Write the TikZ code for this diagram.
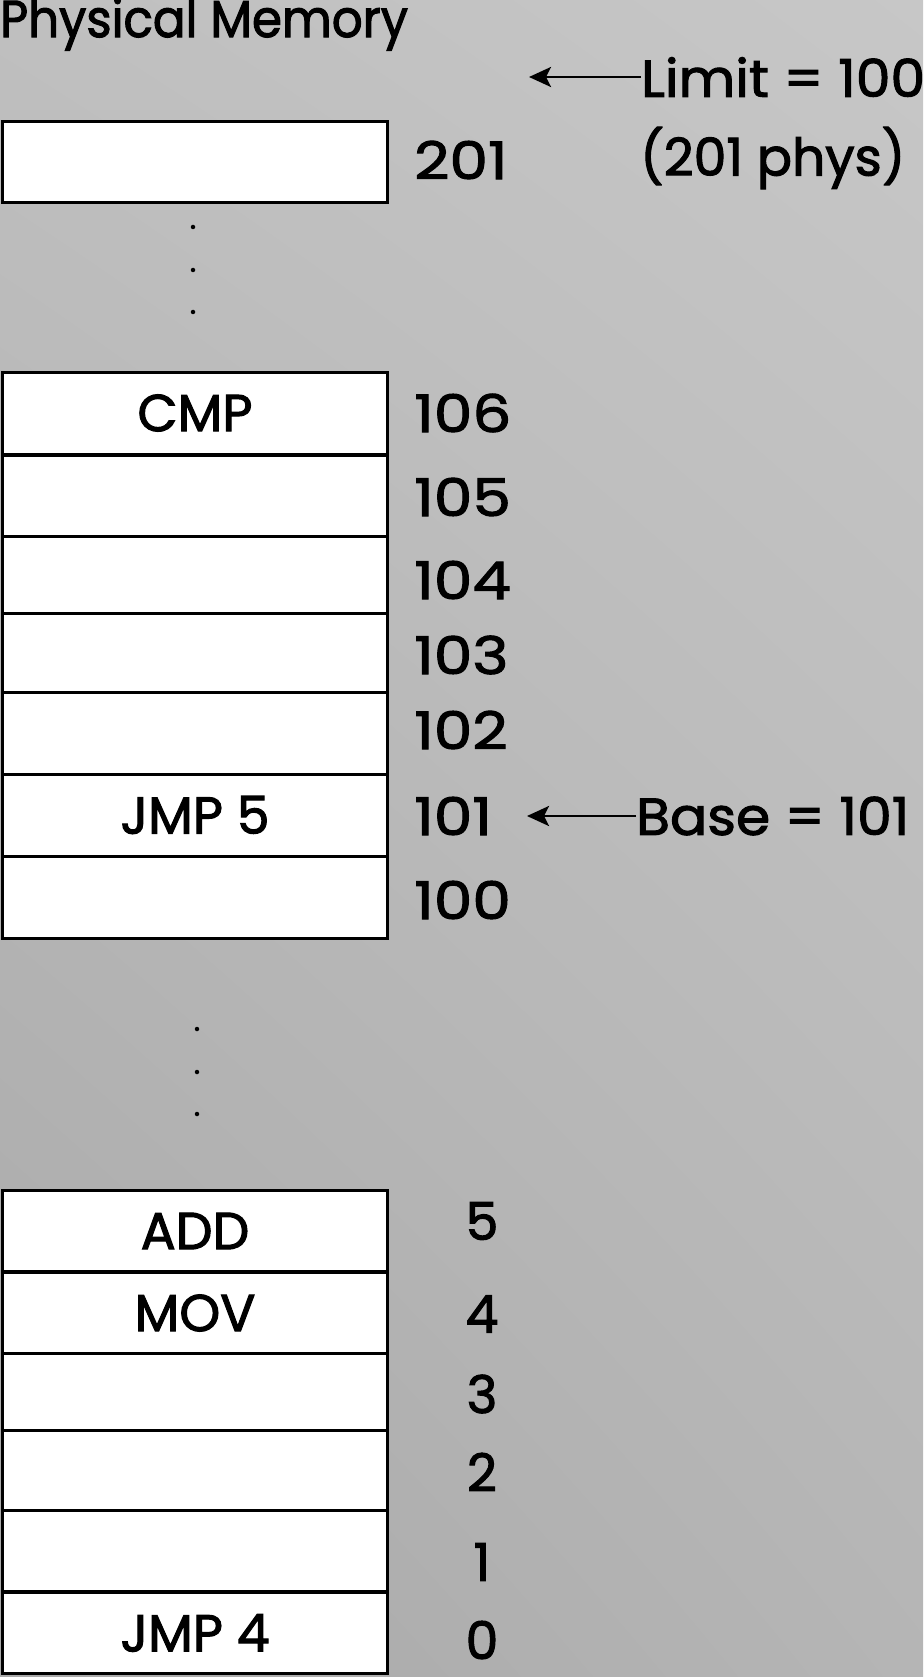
\documentclass[tikz,border=0pt]{standalone}
\usepackage{fontspec}
\setmainfont{Poppins}[FakeBold=2]
\newfontfamily\narrowfont{Poppins}[FakeBold=2, FakeStretch=0.93]
\newfontfamily\widefont{Poppins}[FakeBold=2, FakeStretch=1.06]
\newfontfamily\addrfont{Poppins}[FakeBold=2, FakeStretch=1.18]
\usetikzlibrary{arrows.meta,shadings}
\tikzstyle{cell}=[draw=black, fill=white, line width=3pt, minimum width=385pt, minimum height=81pt, inner sep=0pt, outer sep=0pt]
\tikzstyle{dot}=[circle, fill=black, minimum size=4.5pt, inner sep=0pt]
\tikzstyle{addr}=[anchor=west, inner sep=0pt, font=\fontsize{52}{60}\addrfont]
\tikzstyle{ptr}=[line width=2.8pt, -{Stealth[length=22pt,width=20pt,inset=5pt]}]

\begin{document}
\begin{tikzpicture}
        [x=1pt, y=-1pt, font=\fontsize{52}{60}\selectfont]
            \useasboundingbox (0,0) rectangle (923,1677);
            \shade [upper left=black!25, upper right=black!22, lower left=black!34, lower right=black!29] (0,0) rectangle (923,1677);
            \node [anchor=west, inner sep=0pt, font=\fontsize{52}{60}\narrowfont] (title) at (0,24) {Physical Memory};
            % upper block
            \node [cell] (m201) at (195,162) {};
            \foreach \y in {227,270,312} \node [dot] at (193,\y) {};
            \foreach \a/\t/\y in {106/CMP/413, 105//496, 104//577, 103//654, 102//733, 101/JMP 5/815, 100//897}
                \node [cell, minimum height=82pt] (m\a) at (195,\y) {\t};
            \node [addr] at (414,160) {201};
            \foreach \a/\y in {106/413, 105/497, 104/580, 103/655, 102/730, 101/816, 100/900}
                \node [addr] at (414,\y) {\a};
            % lower block
            \foreach \y in {1029,1072,1114} \node [dot] at (197,\y) {};
            \foreach \a/\t/\y in {5/ADD/1231, 4/MOV/1313, 3//1394, 2//1471, 1//1551, 0/JMP 4/1633}
                \node [cell] (m\a) at (195,\y) {\t};
            \foreach \a/\y in {5/1221, 4/1314, 3/1394, 2/1472, 1/1562, 0/1640}
                \node [inner sep=0pt] at (482,\y) {\a};
            % registers
            \node [anchor=west, inner sep=0pt, font=\fontsize{52}{60}\widefont] (limit) at (641,77) {Limit = 100};
            \node [anchor=west, inner sep=0pt] (phys) at (640,158) {(201 phys)};
            \coordinate (limtip) at (529,77);
            \draw [ptr] (limit.west) -- (limtip);
            \node [anchor=west, inner sep=0pt, font=\fontsize{52}{60}\widefont] (base) at (636,816) {Base = 101};
            \coordinate (basetip) at (527,816);
            \draw [ptr] (base.west) -- (basetip);
        \end{tikzpicture}
\end{document}
